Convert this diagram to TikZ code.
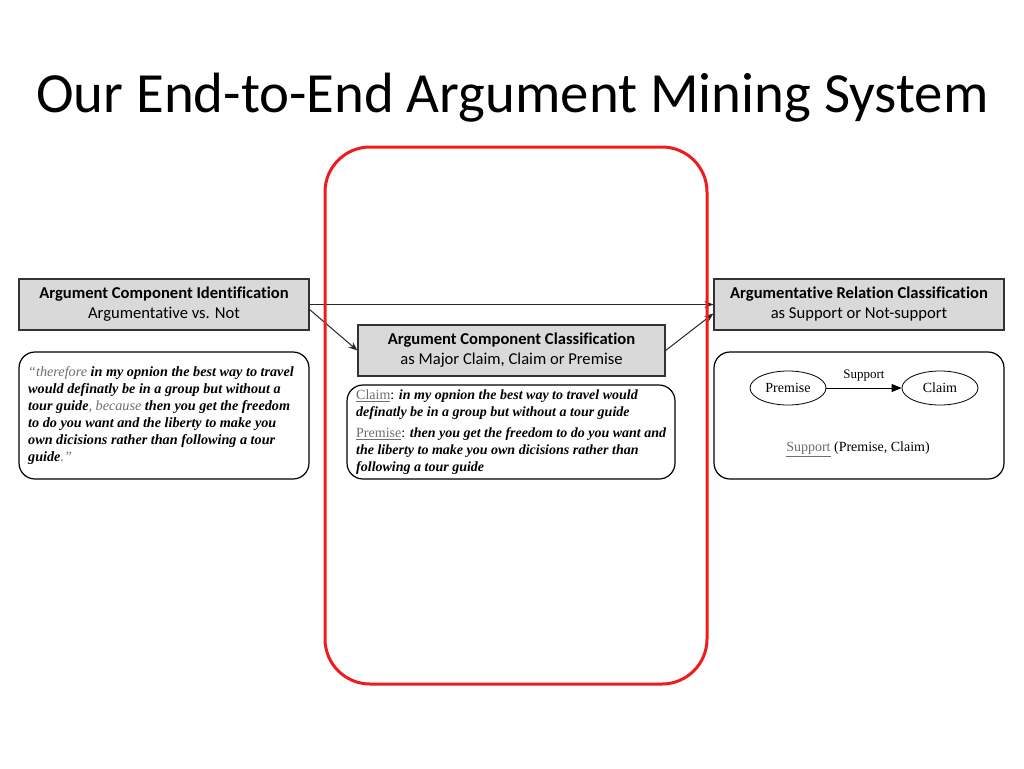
\documentclass[tikz,border=0pt]{standalone}
\usepackage{fontspec}
\setmainfont{Liberation Serif}
\newfontfamily\calfont[Ligatures=NoCommon]{Carlito}
\usetikzlibrary{arrows.meta,shapes.geometric,calc}
\definecolor{boxgray}{HTML}{D9D9D9}
\definecolor{hlred}{HTML}{EE1C1C}
\definecolor{softgray}{HTML}{6E6E6E}
\newcommand{\bi}[1]{\textbf{\textit{#1}}}
\newcommand{\gi}[1]{{\color{softgray}\textit{#1}}}
\begin{document}
\begin{tikzpicture}[x=1pt,y=-1pt,
  graybox/.style={draw=black!80, line width=1.2pt, fill=boxgray, align=center,
    font=\calfont\fontsize{16.6}{20}\selectfont, inner sep=0pt},
  textbox/.style={draw=black, line width=1.2pt, rounded corners=16pt, fill=white},
  qtext/.style={align=left, anchor=north west, inner sep=0pt, font=\fontsize{14.2}{17}\selectfont},
  arr/.style={draw=black!85, line width=1pt, -{Stealth[length=9pt,width=7pt]}},
  oval/.style={ellipse, draw=black, line width=0.8pt, minimum width=76pt, minimum height=34pt,
    inner sep=0pt, font=\fontsize{14}{16}\selectfont}]
\useasboundingbox (0,0) rectangle (1024,768);

% title
\node[anchor=west, inner sep=0pt, font=\calfont\fontsize{56.8}{64}\selectfont] (title) at (36,98) {Our End-to-End Argument Mining System};

% header boxes
\node[graybox, minimum width=290pt, minimum height=51pt] (aci) at (164,304.5)
  {\textbf{Argument Component Identification}\\Argumentative vs. Not};
\node[graybox, minimum width=307pt, minimum height=51pt] (acc) at (511.5,350.5)
  {\textbf{Argument Component Classification}\\as Major Claim, Claim or Premise};
\node[graybox, minimum width=290pt, minimum height=51pt] (arc) at (859,304.5)
  {\textbf{Argumentative Relation Classification}\\as Support or Not-support};

% text boxes
\node[textbox, minimum width=290pt, minimum height=127pt] (q1) at (164,415.5) {};
\node[qtext] (q1t) at (28,366) {%
\gi{``therefore} \bi{in my opnion the best way to travel}\\
\bi{would definatly be in a group but without a}\\
\bi{tour guide}\gi{, because} \bi{then you get the freedom}\\
\bi{to do you want and the liberty to make you}\\
\bi{own dicisions rather than following a tour}\\
\bi{guide}\gi{.''}};

\node[textbox, minimum width=328pt, minimum height=94pt] (q2) at (511,432) {};
\node[qtext, font=\fontsize{14}{17}\selectfont] (q2t) at (356,390) {%
{\color{softgray}\underline{Claim}}: \bi{in my opnion the best way to travel would}\\
\bi{definatly be in a group but without a tour guide}\\[4pt]
{\color{softgray}\underline{Premise}}: \bi{then you get the freedom to do you want and}\\
\bi{the liberty to make you own dicisions rather than}\\
\bi{following a tour guide}};

\node[textbox, minimum width=290pt, minimum height=127pt] (q3) at (859,415.5) {};
\node[oval] (prem) at (788,388) {Premise};
\node[oval] (claim) at (940,388) {Claim};
\draw[line width=0.8pt, -{Triangle[length=10pt,width=8pt]}] (prem) -- (claim)
  node[midway, above=3pt, font=\fontsize{13}{15}\selectfont] (suplab) {Support};
\node[font=\fontsize{14}{16}\selectfont] (rel) at (858,449) {{\color{softgray}\underline{Support}} (Premise, Claim)};

% connectors
\draw[arr] (aci.east) -- (arc.west);
\draw[arr] ($(aci.east)+(0,5)$) -- (acc.west);
\draw[arr] (acc.east) -- ($(arc.west)+(0,9)$);

% highlight
\node[draw=hlred, line width=3pt, rounded corners=45pt, minimum width=382pt, minimum height=537pt] (focus) at (516,415.5) {};
\end{tikzpicture}
\end{document}
